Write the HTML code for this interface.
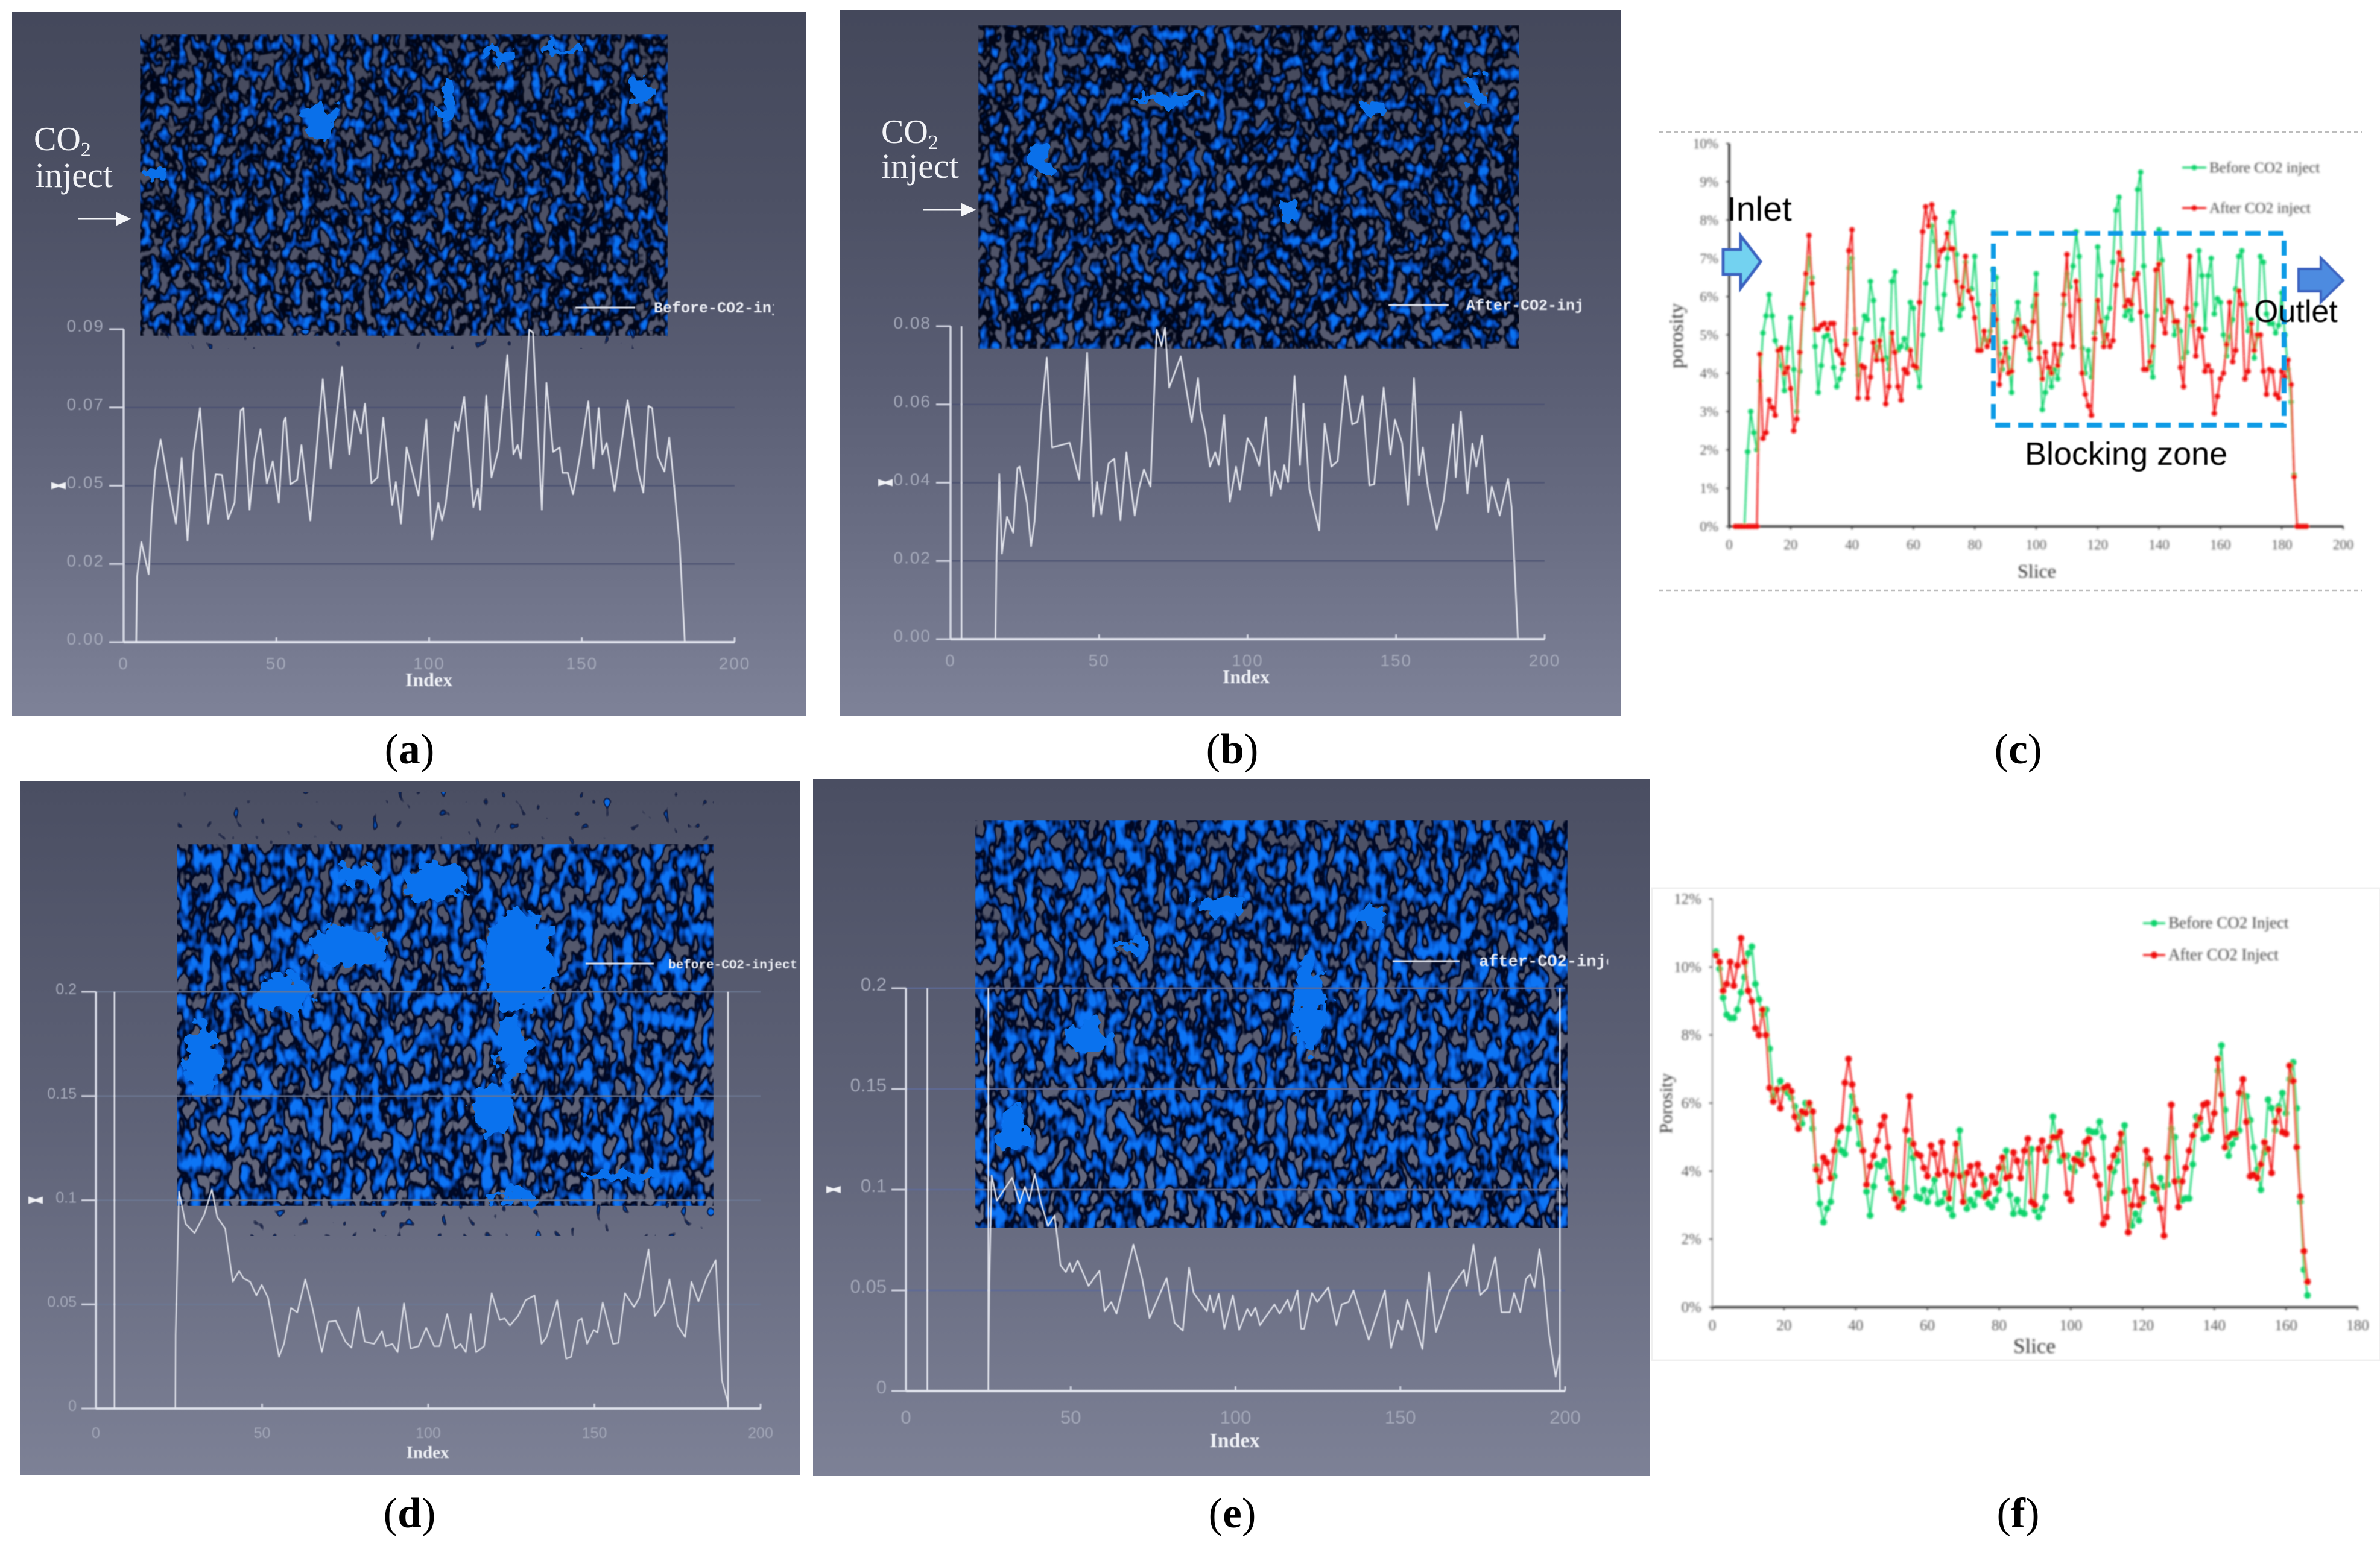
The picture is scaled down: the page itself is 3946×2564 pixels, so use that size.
<!DOCTYPE html>
<html lang="en">
<head>
<meta charset="utf-8">
<title>CT pore structure and porosity before and after CO2 injection</title>
<style>
html,body{margin:0;padding:0;background:#fff;width:3946px;height:2564px;overflow:hidden}
svg{display:block}
text{font-family:"Liberation Sans",sans-serif}
.serif{font-family:"Liberation Serif",serif}
.mono{font-family:"Liberation Mono",monospace;font-weight:bold}
</style>
</head>
<body>
<svg id="fig" xmlns="http://www.w3.org/2000/svg" width="3946" height="2564" viewBox="0 0 3946 2564">
<defs>
<linearGradient id="bgA" x1="0" y1="0" x2="0" y2="1">
<stop offset="0" stop-color="#44485b"/><stop offset=".28" stop-color="#4d5165"/><stop offset=".5" stop-color="#585c72"/><stop offset=".75" stop-color="#6a6e84"/><stop offset="1" stop-color="#7e8298"/>
</linearGradient>
<linearGradient id="bgD" x1="0" y1="0" x2="0" y2="1">
<stop offset="0" stop-color="#4a4e62"/><stop offset=".5" stop-color="#5f6378"/><stop offset="1" stop-color="#7d8196"/>
</linearGradient>
<filter id="poreA" x="0" y="0" width="1" height="1" color-interpolation-filters="sRGB">
<feTurbulence type="fractalNoise" baseFrequency="0.068 0.046" numOctaves="2" seed="4" result="n"/>
<feColorMatrix in="n" type="matrix" values="0 0 0 0 0 0 0 0 0 .02 0 0 0 0 .09 0 0 0 14 -5.3" result="l1"/>
<feColorMatrix in="n" type="matrix" values="0 0 0 0 .02 0 0 0 0 .2 0 0 0 0 .52 0 0 0 14 -7.3" result="l2"/>
<feColorMatrix in="n" type="matrix" values="0 0 0 0 .03 0 0 0 0 .32 0 0 0 0 .78 0 0 0 14 -8.4" result="l3"/>
<feColorMatrix in="n" type="matrix" values="0 0 0 0 .04 0 0 0 0 .45 0 0 0 0 .95 0 0 0 14 -9.5" result="l4"/>
<feMerge result="m"><feMergeNode in="l1"/><feMergeNode in="l2"/><feMergeNode in="l3"/><feMergeNode in="l4"/></feMerge>
<feGaussianBlur in="m" stdDeviation="1"/>
</filter>
<filter id="poreB" x="0" y="0" width="1" height="1" color-interpolation-filters="sRGB">
<feTurbulence type="fractalNoise" baseFrequency="0.064 0.044" numOctaves="2" seed="19" result="n"/>
<feColorMatrix in="n" type="matrix" values="0 0 0 0 0 0 0 0 0 .02 0 0 0 0 .09 0 0 0 14 -5.3" result="l1"/>
<feColorMatrix in="n" type="matrix" values="0 0 0 0 .02 0 0 0 0 .2 0 0 0 0 .52 0 0 0 14 -7.3" result="l2"/>
<feColorMatrix in="n" type="matrix" values="0 0 0 0 .03 0 0 0 0 .32 0 0 0 0 .78 0 0 0 14 -8.4" result="l3"/>
<feColorMatrix in="n" type="matrix" values="0 0 0 0 .04 0 0 0 0 .45 0 0 0 0 .95 0 0 0 14 -9.5" result="l4"/>
<feMerge result="m"><feMergeNode in="l1"/><feMergeNode in="l2"/><feMergeNode in="l3"/><feMergeNode in="l4"/></feMerge>
<feGaussianBlur in="m" stdDeviation="1"/>
</filter>
<filter id="poreD" x="0" y="0" width="1" height="1" color-interpolation-filters="sRGB">
<feTurbulence type="fractalNoise" baseFrequency="0.06 0.034" numOctaves="2" seed="8" result="n"/>
<feColorMatrix in="n" type="matrix" values="0 0 0 0 0 0 0 0 0 .03 0 0 0 0 .14 0 0 0 14 -4.9" result="l1"/>
<feColorMatrix in="n" type="matrix" values="0 0 0 0 .02 0 0 0 0 .24 0 0 0 0 .6 0 0 0 14 -6.6" result="l2"/>
<feColorMatrix in="n" type="matrix" values="0 0 0 0 .03 0 0 0 0 .36 0 0 0 0 .84 0 0 0 14 -7.6" result="l3"/>
<feColorMatrix in="n" type="matrix" values="0 0 0 0 .05 0 0 0 0 .46 0 0 0 0 .96 0 0 0 14 -8.6" result="l4"/>
<feMerge result="m"><feMergeNode in="l1"/><feMergeNode in="l2"/><feMergeNode in="l3"/><feMergeNode in="l4"/></feMerge>
<feGaussianBlur in="m" stdDeviation="0.7"/>
</filter>
<filter id="poreSparse" x="0" y="0" width="1" height="1" color-interpolation-filters="sRGB">
<feTurbulence type="fractalNoise" baseFrequency="0.07 0.05" numOctaves="1" seed="27" result="n"/>
<feColorMatrix in="n" type="matrix" values="0 0 0 0 .01 0 0 0 0 .05 0 0 0 0 .2 0 0 0 14 -9.3" result="l1"/>
<feColorMatrix in="n" type="matrix" values="0 0 0 0 .04 0 0 0 0 .42 0 0 0 0 .9 0 0 0 14 -10" result="l2"/>
<feMerge><feMergeNode in="l1"/><feMergeNode in="l2"/></feMerge>
</filter>
<filter id="patch" x="-30%" y="-30%" width="160%" height="160%" color-interpolation-filters="sRGB">
<feTurbulence type="fractalNoise" baseFrequency="0.04" numOctaves="3" seed="5" result="n"/>
<feDisplacementMap in="SourceGraphic" in2="n" scale="50" xChannelSelector="R" yChannelSelector="G"/>
</filter>
<filter id="soft" x="-2%" y="-2%" width="104%" height="104%"><feGaussianBlur stdDeviation="1.7"/></filter>
<filter id="softLine" x="-2%" y="-2%" width="104%" height="104%"><feGaussianBlur stdDeviation="0.7"/></filter>
<clipPath id="clipLegA"><rect x="1080" y="480" width="203" height="60"/></clipPath>
<clipPath id="clipLegB"><rect x="2428" y="476" width="195" height="60"/></clipPath>
<clipPath id="clipLegD"><rect x="1104" y="1570" width="216" height="60"/></clipPath>
<clipPath id="clipLegE"><rect x="2448" y="1566" width="218" height="60"/></clipPath>
</defs>

<rect width="3946" height="2564" fill="#fff"/>

<g>
<rect x="20" y="20" width="1316" height="1167" fill="url(#bgA)"/>
<rect x="232" y="57" width="875" height="500" filter="url(#poreA)"/>
<rect x="232" y="548" width="875" height="30" filter="url(#poreSparse)"/>
<g filter="url(#patch)" fill="#0a70ea">
<ellipse cx="530" cy="200" rx="22" ry="34"/><ellipse cx="745" cy="170" rx="16" ry="28"/><ellipse cx="830" cy="92" rx="30" ry="10"/><ellipse cx="925" cy="85" rx="30" ry="8"/><ellipse cx="1060" cy="150" rx="20" ry="20"/><ellipse cx="260" cy="290" rx="12" ry="16"/>
</g>
<text class="serif" x="56" y="249" font-size="56" fill="#f2f3f7">CO<tspan font-size="34" dy="10">2</tspan></text>
<text class="serif" x="58" y="310" font-size="58" fill="#f2f3f7">inject</text>
<path d="M130 363H196M194 354L214 363L194 372Z" stroke="#f4f5f8" stroke-width="3" fill="#f4f5f8"/>
</g>

<g>
<rect x="1392" y="17" width="1296" height="1170" fill="url(#bgA)"/>
<rect x="1622" y="42" width="897" height="536" filter="url(#poreB)"/>
<g filter="url(#patch)" fill="#0a70ea">
<ellipse cx="1940" cy="165" rx="55" ry="10"/><ellipse cx="2445" cy="150" rx="12" ry="26"/><ellipse cx="2280" cy="180" rx="18" ry="14"/><ellipse cx="1725" cy="265" rx="18" ry="24"/><ellipse cx="2140" cy="350" rx="14" ry="20"/>
</g>
<text class="serif" x="1461" y="237" font-size="56" fill="#f2f3f7">CO<tspan font-size="34" dy="10">2</tspan></text>
<text class="serif" x="1461" y="295" font-size="58" fill="#f2f3f7">inject</text>
<path d="M1531 348H1597M1595 339L1615 348L1595 357Z" stroke="#f4f5f8" stroke-width="3" fill="#f4f5f8"/>
</g>

<g>
<rect x="33" y="1296" width="1294" height="1151" fill="url(#bgD)"/>
<rect x="293" y="1400" width="890" height="600" filter="url(#poreD)"/>
<rect x="293" y="1314" width="890" height="88" filter="url(#poreSparse)"/>
<rect x="400" y="1995" width="783" height="55" filter="url(#poreSparse)"/>
<g filter="url(#patch)" fill="#0a72ee">
<ellipse cx="860" cy="1595" rx="60" ry="85"/><ellipse cx="850" cy="1740" rx="26" ry="55"/><ellipse cx="820" cy="1840" rx="34" ry="40"/><ellipse cx="575" cy="1570" rx="60" ry="36"/><ellipse cx="470" cy="1650" rx="50" ry="30"/><ellipse cx="720" cy="1460" rx="55" ry="28"/><ellipse cx="590" cy="1450" rx="36" ry="18"/><ellipse cx="335" cy="1760" rx="28" ry="60"/><ellipse cx="860" cy="1985" rx="40" ry="12"/><ellipse cx="1040" cy="1950" rx="70" ry="12"/>
</g>
</g>

<g>
<rect x="1348" y="1292" width="1388" height="1156" fill="url(#bgD)"/>
<rect x="1617" y="1360" width="982" height="677" filter="url(#poreD)"/>
<g filter="url(#patch)" fill="#0a72ee">
<ellipse cx="2170" cy="1670" rx="26" ry="80"/><ellipse cx="1800" cy="1720" rx="36" ry="24"/><ellipse cx="2020" cy="1500" rx="40" ry="16"/><ellipse cx="2270" cy="1520" rx="22" ry="20"/><ellipse cx="1680" cy="1880" rx="24" ry="40"/><ellipse cx="1880" cy="1570" rx="30" ry="10"/>
</g>
</g>

<g>
<rect x="2739" y="1473" width="1207" height="783" fill="#fff" stroke="#f0f0f0" stroke-width="3"/>
</g>

<path d="M2751 219H3916M2751 979H3916" stroke="#bdbdbd" stroke-width="2.5" stroke-dasharray="7 5" fill="none"/>

<g id="plots"></g>

<g id="annotations" filter="url(#softLine)">
<rect x="3305" y="387" width="482" height="318" fill="none" stroke="#0b9be6" stroke-width="8" stroke-dasharray="25 13"/>
<path d="M2857 414H2886V391L2919 434L2886 478V455H2857Z" fill="#73d2f0" stroke="#3a62c0" stroke-width="5"/>
<path d="M3811 446H3848V428L3885 465L3848 501V483H3811Z" fill="#4d8be0" stroke="#3a62c0" stroke-width="4"/>
<text x="2863" y="366" font-size="57" fill="#000">Inlet</text>
<text x="3737" y="534" font-size="52" fill="#000">Outlet</text>
<text x="3357" y="771" font-size="54" fill="#000">Blocking zone</text>
</g>

<g class="serif" font-size="71" text-anchor="middle" fill="#000">
<text class="serif" x="679" y="1266">(<tspan font-weight="bold">a</tspan>)</text>
<text class="serif" x="2043" y="1266">(<tspan font-weight="bold">b</tspan>)</text>
<text class="serif" x="3346" y="1266">(<tspan font-weight="bold">c</tspan>)</text>
<text class="serif" x="679" y="2533">(<tspan font-weight="bold">d</tspan>)</text>
<text class="serif" x="2043" y="2533">(<tspan font-weight="bold">e</tspan>)</text>
<text class="serif" x="3346" y="2533">(<tspan font-weight="bold">f</tspan>)</text>
</g>
</svg>

<script>
/* ---------- chart data ---------- */
const grayXTicks = [0, 50, 100, 150, 200];

const aYTicks = [0, 0.0225, 0.045, 0.0675, 0.09];
const aYLabels = ['0.00', '0.02', '0.05', '0.07', '0.09'];
const aIndex = [4.1,4.4,5.8,8.2,9.2,10.3,12.1,14.4,17.1,19,20.9,22.9,25,27.7,30.1,32.2,34.2,36.3,38.3,39.2,41.2,42.9,44.8,46.9,48.8,50.8,52.4,53,54.6,56.8,58.2,61.1,65.2,67.8,71.5,73.9,75.6,77.7,79,81.1,83.1,85,87.9,89.1,90.8,92.6,96.5,99.1,100.9,103,104.2,105.4,108.5,109.5,111.5,114.5,116,116.7,118.7,120.4,122.7,125.6,127.6,129,130,132.8,134,136.9,138.4,140.6,142.7,143.7,145.4,147.1,149.2,152.1,153.8,155.5,156.7,158.1,160.7,165,168.3,170.1,171.8,173,174.8,177,178.6,180.3,182,183.7];
const aPorosity = [0,.0189,.0288,.0195,.0368,.0494,.0583,.0467,.0341,.053,.0292,.0547,.0673,.0341,.0483,.0481,.0354,.0401,.0666,.0673,.0381,.0527,.0613,.0457,.052,.0401,.0633,.0646,.0454,.0467,.0567,.035,.0757,.05,.0792,.054,.0666,.06,.0686,.0457,.0474,.0646,.0394,.0461,.0341,.056,.0421,.064,.0295,.0401,.035,.0398,.0633,.0607,.0706,.0388,.0441,.0381,.0709,.0474,.0554,.0826,.054,.0567,.0527,.0899,.089,.0381,.0746,.0547,.056,.0487,.0487,.0425,.0527,.0693,.05,.0673,.054,.0573,.0434,.0696,.0494,.043,.068,.0673,.0534,.0491,.0589,.0441,.0281,0];

const bYTicks = [0, 0.02, 0.04, 0.06, 0.08];
const bYLabels = ['0.00', '0.02', '0.04', '0.06', '0.08'];
const bIndex = [15.1,15.5,16.4,17.3,19,21.1,22.5,23.2,24.6,25.7,27.1,28.3,30.5,32.4,34.2,37.1,40.1,43.3,46,48.1,49.3,50.7,53.2,55.1,57.2,59.2,62,63.4,65.1,67.3,69.4,71,72.2,73.6,77.5,81.2,83.3,84.2,85.9,87.3,89.1,90.3,92.1,94,96.1,97.4,100,101.8,103.9,106.2,107.9,109.2,111.1,112.3,113.6,115.8,117.6,118.8,120.8,124.1,125.9,128.2,130.3,132.9,135.2,137,138.7,141,142.6,145.8,148.1,149.6,152,154,156,157.7,159,160.7,163.7,166,169.2,170.1,171.8,174,175.7,177,178.9,181,182.2,184.9,187.7,188.9,189.8,191];
const bPorosity = [0,.0213,.0422,.0219,.0313,.0272,.0437,.0441,.039,.0349,.0237,.0302,.0573,.072,.049,.0496,.0502,.0408,.0732,.0313,.0402,.0319,.0449,.0461,.0304,.0478,.0316,.0384,.0434,.039,.0791,.0749,.0796,.0643,.0723,.0555,.0667,.0584,.0525,.0441,.0478,.0445,.0573,.0351,.0441,.0382,.0514,.049,.0443,.0567,.0366,.0429,.0384,.0445,.0402,.0673,.0445,.0602,.0384,.0278,.0551,.0441,.0455,.0673,.0549,.0555,.0622,.0393,.0396,.0643,.0472,.0561,.0502,.0343,.0667,.0419,.049,.039,.028,.0355,.0549,.0414,.0582,.0372,.05,.0441,.052,.0325,.039,.0316,.041,.0337,.0196,0];

const dYTicks = [0, 0.05, 0.1, 0.15, 0.2];
const dYLabels = ['0', '0.05', '0.1', '0.15', '0.2'];
const dIndex = [23.9,24,25,27,29.7,32.6,34.9,36.5,38.9,41.2,43.1,44.4,46.4,48.3,49.9,51.8,55.1,56.6,58.7,60.6,63,65.1,68,69.9,72.2,75.1,76.9,79,80.9,83.7,86.1,87.2,89.2,90.8,92.7,94.7,97.1,99.4,101.8,103.4,105.7,108.1,109.7,111.3,112.8,114.4,116.8,119.1,121.5,123,124.6,127,129.3,132,134.1,135.6,138.8,141.5,143,145.1,146.2,147.8,149.8,150.9,152.5,155.6,157.2,159.2,161.9,163.5,166.3,168.2,171,172.6,175,177.3,179.2,181.3,183.6,186.5,188.4,190.2];
const dPorosity = [0,.0354,.1041,.0886,.0842,.093,.1052,.0919,.0864,.0609,.066,.0625,.0609,.0543,.0594,.0532,.0248,.031,.0483,.0461,.062,.0487,.027,.0416,.0421,.0321,.0292,.0487,.0321,.031,.0372,.0299,.031,.027,.0505,.0288,.0299,.0388,.0299,.0299,.0454,.0288,.031,.027,.0454,.027,.0299,.0554,.0425,.0432,.0399,.0443,.052,.0543,.031,.0343,.052,.0239,.0248,.0421,.0432,.031,.0377,.0365,.0509,.031,.0315,.0554,.0487,.0532,.0764,.0443,.0509,.062,.0399,.0343,.0609,.0514,.062,.0713,.0133,.0027];

const eYTicks = [0, 0.05, 0.1, 0.15, 0.2];
const eYLabels = ['0', '0.05', '0.1', '0.15', '0.2'];
const eIndex = [25,25.3,26,27.6,32.2,34.5,36.1,37.4,39.1,41,43.1,45.1,46.9,48.5,49.7,50.5,52.1,55.4,58.7,60.3,62.3,63.9,69,71.7,73.9,79.1,81.5,84,85.9,87.3,91.3,92.2,93.3,94.9,96.6,99.2,101.1,103.6,104.7,106,107.4,111.8,113.4,115.8,116.7,118.8,119.9,120.8,123.2,124.8,128.1,130.6,132.2,134.3,135.8,140.4,145.3,147.2,149.3,150.5,152.1,154.2,156.7,158.7,160.8,164.9,169.3,170.1,172.2,174.2,176.3,178.8,180.7,183.2,184.5,186.4,188.1,189.4,190.7,192.2,193.5,195.1,197.1,198.4];
const ePorosity = [0,.0533,.1071,.0945,.1059,.0934,.1014,.0945,.1078,.0934,.0819,.0872,.0625,.059,.0636,.059,.0648,.0522,.0597,.0396,.0442,.0384,.0728,.0556,.0362,.0561,.0339,.03,.0613,.0487,.0396,.0476,.0391,.0483,.0309,.0476,.0304,.0407,.0373,.0414,.0327,.043,.0384,.0453,.0396,.0499,.0309,.0309,.0487,.0442,.0515,.0327,.043,.0442,.0499,.0254,.0499,.0213,.035,.0304,.0453,.035,.0208,.059,.0293,.0499,.0602,.0522,.0728,.0476,.051,.0666,.0391,.0391,.0487,.0391,.0556,.0579,.0515,.0705,.0556,.0281,.0071,.019];

const cXTicks = [0,20,40,60,80,100,120,140,160,180,200];
const cYTicks = [0,1,2,3,4,5,6,7,8,9,10];
const cFirstSlice = 2;
const cBefore = [0,0,0,0,1.95,3,2.45,2,3.8,5.05,5.5,6.05,5.5,4.85,4.6,4.2,3.55,4.65,5.45,4.1,3,4.05,5.7,6.1,7,6.5,4.7,3.5,4.2,4.95,5,4.85,4.15,3.65,3.85,4.1,4.85,6.75,7,5.15,3.95,4.9,5.5,5.4,6.4,5.9,4.4,4.7,5.4,4.4,4.1,6.4,6.65,4.6,4.7,4.9,4.65,5.85,5.7,4.1,3.65,5,6.35,6.8,7.85,7.45,5.7,5.15,6.05,7,7.95,8.2,7.1,5.5,5.7,6.9,6.15,6.2,7.05,5.8,4.6,4.9,4.85,5.1,6.7,6.5,4.5,4.1,4.8,4.4,3.5,5.35,5.85,5.2,4.95,4.8,4.35,5.75,6.6,4.8,3.05,3.5,4.15,3.65,4.1,3.85,4.5,5.8,6.6,6.25,6.8,7.7,7.05,4.65,4,4.6,3.9,5.05,7.3,6.55,4.8,5.45,5.7,6.9,8.25,8.6,6.7,5.5,5.65,5.4,6.6,8.8,9.25,6.8,5.5,4.2,3.9,5.65,7.75,6.95,5.6,5.9,5.85,5,5.3,5.1,4.4,4.55,5.5,5.25,5.8,7.2,6.55,5.15,6.55,7,5.55,5.95,5.85,5,4.45,4.95,5.4,6.2,7.05,7.2,5.8,5.1,5.4,4.4,4.95,7.05,6.9,5.55,5.3,5.3,5.05,5.25,6.1,5,4.1,3.25,1.35,0,0,0,0];
const cAfter = [0,0,0,0,0,0,0,0,4.5,2.3,2.45,3.3,3.1,2.9,4.6,4.65,4,4.15,3.6,2.5,2.8,4.55,5.8,6.6,7.6,6.35,5.15,5.15,5.25,5.3,5.15,5.3,5.3,4.6,4.5,4.25,4.75,7.2,7.75,5.05,3.35,4.2,4.15,3.35,3.9,4.8,4.35,4.85,4.35,3.2,3.65,5.05,4.55,3.65,3.3,4.1,4,4.6,4.2,4.15,5.85,7.7,8.35,7.85,8.4,8.05,6.8,7.2,7.25,7.65,7.25,7.25,6.4,5.8,6.25,7.05,6.15,5.95,5.45,4.6,4.6,5.1,4.7,4.85,6.05,5.4,3.7,4.3,4.65,4,4.05,4.95,5.4,5,5.2,5.1,4.65,5.35,6.05,4.4,3.85,4.55,4.15,4,4.75,4.2,4.75,6.05,7.1,5.5,4.7,6.4,5.9,4,3.45,3.15,2.9,4.9,5.9,5.35,4.7,5,4.7,4.85,6.3,7.15,6.95,5.75,5.9,5.8,6.45,6.6,5.6,4.1,4.1,4.3,4.7,6.7,6.85,5.4,5.05,5.9,5.85,5.35,5.35,4.15,3.65,5.7,7.05,5.35,4.45,5.15,4.95,4.05,4.2,4.05,2.95,3.4,3.85,4,4.75,5.85,4.3,4.6,6.15,5.8,3.85,4.05,5.3,4.6,5,5,4.05,3.45,4.1,4.05,3.45,3.35,4.05,3.9,4.35,3.7,1.3,0,0,0,0];

const fXTicks = [0,20,40,60,80,100,120,140,160,180];
const fYTicks = [0,2,4,6,8,10,12];
const fFirstSlice = 1;
const fBefore = [10.45,9.95,9.1,8.6,8.5,8.5,8.75,9.25,9.7,10.4,10.6,9.5,9.05,8.6,8.75,7.6,6.2,6.4,6.65,6.4,6.3,6.15,5.9,5.6,5.4,6,5.95,5.25,4.15,3.05,2.5,2.9,3.1,3.85,4.85,4.6,4.5,5.25,6.2,5.6,4.8,4.6,3.4,2.7,3.55,4.2,4.15,4.3,3.8,3.45,3.3,3.35,2.9,3.5,4.9,4.4,3.25,3.2,3.45,3.1,3.4,3.75,3.05,3.1,3.35,2.9,2.7,4.3,5.2,3.9,2.9,3.15,3,3.35,3.3,3.75,3.05,2.95,3.15,3.45,4.1,4.6,3.3,2.75,3.15,2.8,2.75,4.25,4.65,2.85,2.65,2.9,3.25,4.6,5.6,4.95,4.3,4.4,4.45,4.1,4,4.5,4.3,4.5,5.2,5.15,5.15,5.45,5,3.2,3.35,4,4.3,4.85,5.35,3.45,2.4,2.75,2.55,3.1,4.2,4.35,3.35,3.15,3.8,3.55,3.6,5.25,5,3.75,3.15,3.2,3.2,4.2,5.6,5.45,4.95,5,5.2,5.7,6.95,7.7,5.8,4.45,4.8,5,5.2,6.25,6.2,5.5,4.7,4.05,3.45,4.55,6.1,5.85,5.2,5.9,6.3,5.7,6.7,7.2,5.85,3.1,1.1,0.35];
const fAfter = [10.35,10.15,9.3,9.5,10.15,9.45,10.05,10.85,10.15,9.3,9,8.2,8,8.75,8,6.45,6.05,6.4,5.85,6.45,6.5,6.35,5.6,5.25,5.75,5.7,6,5.75,4.05,3.7,4.4,4.25,3.8,4.6,5.2,5.3,6.6,7.3,6.55,5.8,5.45,4.6,3.6,4.15,4.45,4.9,5.35,5.6,4.7,3.65,3.2,2.95,3.1,5.2,6.2,4.8,4.5,4.45,4.1,3.85,4.75,4.5,3.9,4.85,4,3.2,3.9,4.8,3.85,3.1,3.95,4.15,3.6,4.2,3.9,3.25,3.35,3.85,3.65,4.1,4.4,3.8,3.85,4.55,4.3,3.8,4.6,4.95,3.1,3,4.65,4.9,4.3,4.7,5,5,5.15,4.45,3.35,3.15,4.35,4.3,4.2,4.85,4.95,4.35,3.85,3.6,2.45,2.65,4.1,4.45,4.65,5.1,3.4,2.2,3,3.7,3,3.2,4.6,4.35,3.55,3.5,2.9,2.1,4.4,5.95,3.7,2.95,3.7,4.1,4.6,5.05,5.35,5.55,5.95,6,5.2,5.7,7.3,6.25,4.7,5,5.1,5.1,6.3,6.7,5.45,3.85,3.9,3.8,4.2,4.85,4.65,3.95,5.45,5.8,5.15,5.1,7.1,6.65,4.7,3.25,1.65,0.75];

/* ---------- drawing ---------- */
const NS = 'http://www.w3.org/2000/svg';
const plots = document.getElementById('plots');
function make(tag, parent, attrs, txt) {
  const el = document.createElementNS(NS, tag);
  for (const k in attrs) el.setAttribute(k, attrs[k]);
  if (txt !== undefined) el.textContent = txt;
  parent.appendChild(el);
  return el;
}
function linear(d0, d1, r0, r1) { return v => r0 + (v - d0) * (r1 - r0) / (d1 - d0); }

function drawGray(cfg) {
  const x = linear(0, 200, cfg.x0, cfg.x1);
  const y = linear(0, cfg.yTicks[cfg.yTicks.length - 1], cfg.y0, cfg.y1);
  const g = make('g', plots, {filter: 'url(#softLine)'});
  
  

  cfg.yTicks.forEach((t, i) => {
    if (i > 0 && (i < cfg.yTicks.length - 1 || cfg.topGrid)) {
      const gl = make('line', g, {x1: x(0), x2: x(200), y1: y(t), y2: y(t), stroke: cfg.grid, 'stroke-width': 2.5});
      
      
    }
    const tk = make('line', g, {x1: x(0) - 24, x2: x(0), y1: y(t), y2: y(t), stroke: '#cfd2df', 'stroke-width': 3});
    
    
    const lb = make('text', g, {x: x(0) - 32, y: y(t) + 4, 'text-anchor': 'end', 'font-size': cfg.tickSize, fill: '#a3a7b8', 'letter-spacing': cfg.tickSpacing}, cfg.yLabels[i]);
    
    
  });
  grayXTicks.forEach(t => {
    const tk = make('line', g, {x1: x(t), x2: x(t), y1: cfg.y0, y2: cfg.y0 + cfg.xTickLen, stroke: '#cfd2df', 'stroke-width': 3});
    
    
    const lb = make('text', g, {x: x(t), y: cfg.xLabelY, 'text-anchor': 'middle', 'font-size': cfg.tickSize, fill: '#a3a7b8', 'letter-spacing': cfg.tickSpacing}, String(t));
    
    
  });
  const yAxis = make('line', g, {x1: x(0), x2: x(0), y1: cfg.y0, y2: cfg.y1, stroke: '#d4d7e3', 'stroke-width': 3.5});
  
  
  const xAxis = make('line', g, {x1: x(0), x2: x(200), y1: cfg.y0, y2: cfg.y0, stroke: '#dfe2ec', 'stroke-width': 4});
  
  

  cfg.rangeLines.forEach(r => {
    const v = make('line', g, {x1: x(r), x2: x(r), y1: cfg.y0, y2: cfg.y1, stroke: '#e3e5ee', 'stroke-width': 2.5});
    
    
  });

  const pts = cfg.index.map((v, i) => x(v).toFixed(1) + ',' + y(cfg.values[i]).toFixed(1)).join(' ');
  const line = make('polyline', g, {points: pts, fill: 'none', stroke: '#e2e4ec', 'stroke-width': cfg.lineWidth, 'stroke-linejoin': 'round'});
  
  

  const my = y(cfg.yTicks[2]);
  const mx = x(0) - cfg.markerOffset;
  const mark = make('path', g, {d: `M${mx - 12} ${my - 6}L${mx} ${my - 2}L${mx + 12} ${my - 6}V${my + 6}L${mx} ${my + 2}L${mx - 12} ${my + 6}Z`, fill: '#f0f1f5'});
  
  

  const title = make('text', g, {x: cfg.titleX, y: cfg.titleY, 'text-anchor': 'middle', 'font-size': cfg.titleSize, 'font-weight': 'bold', fill: '#eef0f5', style: 'font-family:"Liberation Serif",serif'}, 'Index');
  
  

  const legLine = make('line', g, {x1: cfg.legX0, x2: cfg.legX1, y1: cfg.legY, y2: cfg.legY, stroke: '#e4e6ee', 'stroke-width': 3});
  
  
  const legClip = make('g', g, {'clip-path': cfg.legClip});
  
  
  const leg = make('text', legClip, {x: cfg.legTextX, y: cfg.legY + 8, 'font-size': cfg.legSize, fill: '#eceef4', class: 'mono'}, cfg.legText);
  
  
}

drawGray({key:'panel-a', x0:205, x1:1218, y0:1065, y1:546, yTicks:aYTicks, yLabels:aYLabels, index:aIndex, values:aPorosity, grid:'#4d5272', tickSize:28, tickSpacing:2, xTickLen:-8, xLabelY:1110, rangeLines:[], lineWidth:2.6, markerOffset:108, titleX:711, titleY:1138, titleSize:32, legX0:954, legX1:1053, legY:510, legClip:'url(#clipLegA)', legTextX:1084, legSize:25, legText:'Before-CO2-inject', topGrid:false});
drawGray({key:'panel-b', x0:1576, x1:2561, y0:1060, y1:541, yTicks:bYTicks, yLabels:bYLabels, index:bIndex, values:bPorosity, grid:'#4d5272', tickSize:28, tickSpacing:2, xTickLen:-8, xLabelY:1105, rangeLines:[3.7], lineWidth:2.6, markerOffset:108, titleX:2066, titleY:1133, titleSize:32, legX0:2302, legX1:2402, legY:506, legClip:'url(#clipLegB)', legTextX:2431, legSize:25, legText:'After-CO2-inject', topGrid:false});
drawGray({key:'panel-d', x0:159, x1:1261, y0:2336, y1:1645, yTicks:dYTicks, yLabels:dYLabels, index:dIndex, values:dPorosity, grid:'#6a7690', tickSize:25, tickSpacing:0, xTickLen:-8, xLabelY:2385, rangeLines:[5.6,190.2], lineWidth:2.2, markerOffset:100, titleX:709, titleY:2418, titleSize:29, legX0:971, legX1:1084, legY:1598, legClip:'url(#clipLegD)', legTextX:1108, legSize:21, legText:'before-CO2-inject', topGrid:true});
drawGray({key:'panel-e', x0:1502, x1:2595, y0:2307, y1:1639, yTicks:eYTicks, yLabels:eYLabels, index:eIndex, values:ePorosity, grid:'#5f6a96', tickSize:31, tickSpacing:0, xTickLen:-8, xLabelY:2361, rangeLines:[6.5,25,198.4], lineWidth:2.4, markerOffset:120, titleX:2047, titleY:2400, titleSize:34, legX0:2309, legX1:2420, legY:1594, legClip:'url(#clipLegE)', legTextX:2452, legSize:27, legText:'after-CO2-inject', topGrid:true});

function drawExcel(cfg) {
  const x = linear(0, cfg.xTicks[cfg.xTicks.length - 1], cfg.x0, cfg.x1);
  const y = linear(0, cfg.yTicks[cfg.yTicks.length - 1], cfg.y0, cfg.y1);
  const g = make('g', plots, {filter: 'url(#soft)'});
  
  

  const yAxis = make('line', g, {x1: cfg.x0, x2: cfg.x0, y1: cfg.y0, y2: cfg.y1, stroke: cfg.yAxisColor, 'stroke-width': cfg.yAxisWidth});
  
  
  const xAxis = make('line', g, {x1: cfg.x0, x2: cfg.x1, y1: cfg.y0, y2: cfg.y0, stroke: '#111', 'stroke-width': 3});
  
  

  cfg.yTicks.forEach(t => {
    const tk = make('line', g, {x1: cfg.x0 - 5, x2: cfg.x0, y1: y(t), y2: y(t), stroke: '#333', 'stroke-width': 2});
    
    
    const lb = make('text', g, {x: cfg.x0 - 18, y: y(t) + 8, 'text-anchor': 'end', 'font-size': cfg.tickSize, fill: '#555', class: 'serif'}, t + '%');
    
    
  });
  cfg.xTicks.forEach(t => {
    const tk = make('line', g, {x1: x(t), x2: x(t), y1: cfg.y0, y2: cfg.y0 + 5, stroke: '#333', 'stroke-width': 2});
    
    
    const lb = make('text', g, {x: x(t), y: cfg.y0 + 38, 'text-anchor': 'middle', 'font-size': cfg.tickSize, fill: '#555', class: 'serif'}, String(t));
    
    
  });

  const series = [
    {name: 'before', vals: cfg.before, color: '#10d46c', first: cfg.first},
    {name: 'after', vals: cfg.after, color: '#f01010', first: cfg.first}
  ];
  series.forEach(s => {
    const pts = s.vals.map((v, i) => x(i + s.first).toFixed(1) + ',' + y(v).toFixed(1)).join(' ');
    const line = make('polyline', g, {points: pts, fill: 'none', stroke: s.color, 'stroke-width': 2.6, 'stroke-linejoin': 'round'});
    
    
    s.vals.forEach((v, i) => {
      const c = make('circle', g, {cx: x(i + s.first).toFixed(1), cy: y(v).toFixed(1), r: cfg.r, fill: s.color});
      
      
    });
  });

  const tx = make('text', g, {x: cfg.xTitleX, y: cfg.xTitleY, 'text-anchor': 'middle', 'font-size': cfg.xTitleSize, fill: '#333', class: 'serif'}, 'Slice');
  
  
  const ty = make('text', g, {x: cfg.yTitleX, y: cfg.yTitleY, 'text-anchor': 'middle', 'font-size': cfg.yTitleSize, fill: '#333', class: 'serif', transform: `rotate(-90 ${cfg.yTitleX} ${cfg.yTitleY})`}, cfg.yTitle);
  
  

  cfg.legend.forEach((l, i) => {
    const ll = make('line', g, {x1: cfg.legX0, x2: cfg.legX1, y1: l.y, y2: l.y, stroke: series[i].color, 'stroke-width': 3});
    
    
    const lc = make('circle', g, {cx: (cfg.legX0 + cfg.legX1) / 2, cy: l.y, r: cfg.r, fill: series[i].color});
    
    
    const lt = make('text', g, {x: cfg.legX1 + 5, y: l.y + 8, 'font-size': cfg.legSize, fill: '#444', class: 'serif'}, l.text);
    
    
  });
}

drawExcel({key:'panel-c', x0:2867, x1:3885, y0:873, y1:238, xTicks:cXTicks, yTicks:cYTicks, before:cBefore, after:cAfter, first:cFirstSlice, r:4.5, yAxisColor:'#111', yAxisWidth:3, tickSize:23, xTitleX:3377, xTitleY:958, xTitleSize:32, yTitleX:2790, yTitleY:557, yTitleSize:33, yTitle:'porosity', legX0:3618, legX1:3658, legSize:25, legend:[{y:278,text:'Before CO2 inject'},{y:345,text:'After CO2 inject'}]});
drawExcel({key:'panel-f', x0:2839, x1:3909, y0:2168, y1:1491, xTicks:fXTicks, yTicks:fYTicks, before:fBefore, after:fAfter, first:fFirstSlice, r:5.5, yAxisColor:'#999', yAxisWidth:2, tickSize:25, xTitleX:3373, xTitleY:2244, xTitleSize:35, yTitleX:2772, yTitleY:1830, yTitleSize:30, yTitle:'Porosity', legX0:3553, legX1:3590, legSize:27, legend:[{y:1531,text:'Before CO2 Inject'},{y:1584,text:'After CO2 Inject'}]});
</script>
</body>
</html>
